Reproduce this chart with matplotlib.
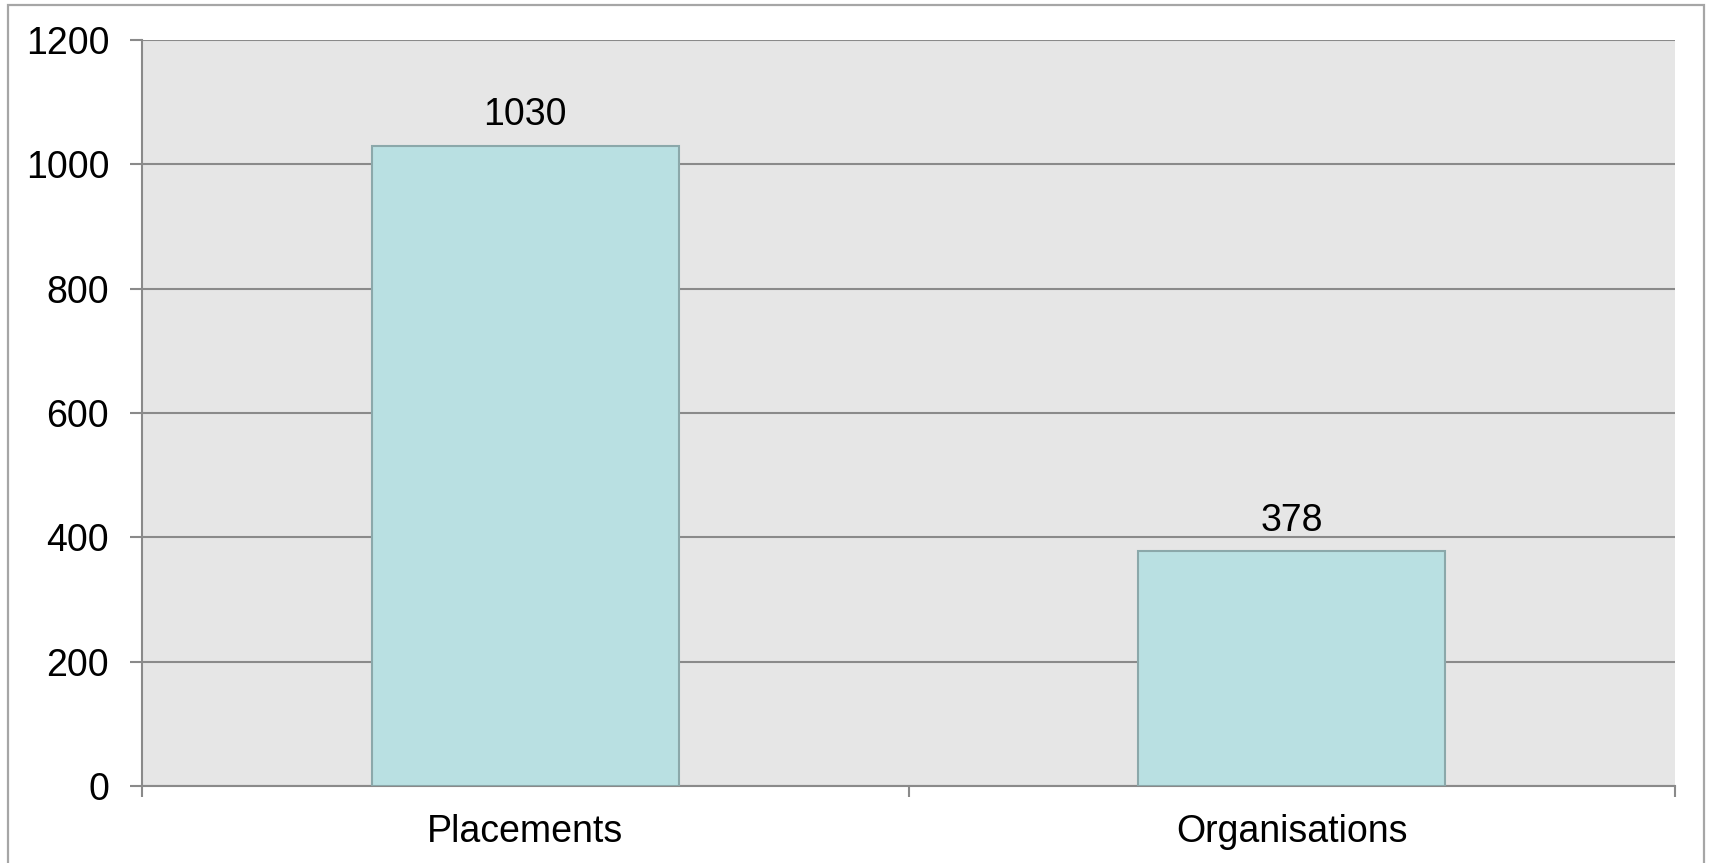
import matplotlib.pyplot as plt
from matplotlib.patches import Rectangle

categories = ["Placements", "Organisations"]
counts = [1030, 378]
yticks = [0, 200, 400, 600, 800, 1000, 1200]

plt.rcParams['font.family'] = ['Liberation Sans', 'DejaVu Sans']

fig = plt.figure(figsize=(17.1, 8.63), dpi=100)
ax = fig.add_axes([142 / 1710, 1 - 786 / 863, (1675 - 142) / 1710, (786 - 40) / 863])

ax.set_facecolor('#e6e6e6')
x = list(range(len(categories)))
bars = ax.bar(x, counts, width=0.4, color='#b9e0e2', edgecolor='#8ba8aa', linewidth=1.5, zorder=3)

for b, v in zip(bars, counts):
    ax.annotate(str(v), (b.get_x() + b.get_width() / 2, v), xytext=(0, 9),
                textcoords='offset points', ha='center', va='bottom', fontsize=27)

ax.set_xlim(-0.5, len(categories) - 0.5)
ax.set_ylim(0, 1200)
ax.set_yticks(yticks)
ax.grid(axis='y', color='#8a8a8a', linewidth=1.5, zorder=1)
ax.set_axisbelow(True)

# boundaries between categories get the tick marks, names sit in the middle
ax.set_xticks([i - 0.5 for i in range(len(categories) + 1)])
ax.set_xticklabels([])
ax.set_xticks(x, minor=True)
ax.set_xticklabels(categories, minor=True)
ax.tick_params(axis='x', which='major', length=8, width=1.5, color='#8a8a8a', direction='out')
ax.tick_params(axis='x', which='minor', length=0, pad=20, labelsize=27)
ax.tick_params(axis='y', length=8.6, width=1.5, color='#8a8a8a', pad=15, labelsize=27)

for s in ['top', 'right']:
    ax.spines[s].set_visible(False)
for s in ['left', 'bottom']:
    ax.spines[s].set_color('#8a8a8a')
    ax.spines[s].set_linewidth(1.5)

fig.patches.append(Rectangle((8 / 1710, -0.02), (1704 - 8) / 1710, 1.02 - 5 / 863,
                             transform=fig.transFigure, fill=False,
                             edgecolor='#a6a6a6', linewidth=1.6))

fig.savefig('out.png', dpi=100)
